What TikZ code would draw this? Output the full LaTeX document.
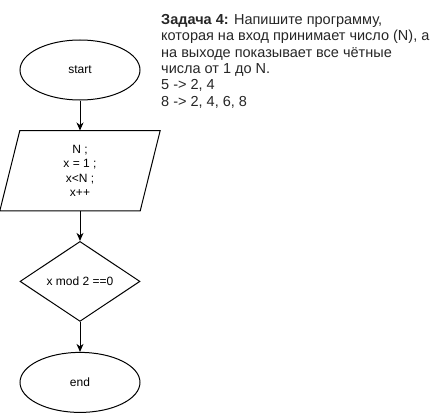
\documentclass[tikz,border=0pt]{standalone}
\usepackage{fontspec}
\setmainfont{Liberation Sans}
\usepackage{tikz}
\usetikzlibrary{positioning, shapes.geometric, arrows.meta}
\definecolor{inkgray}{HTML}{262626}

\tikzset{
  term/.style={ellipse, draw, line width=1pt, inner sep=0pt, minimum width=120pt, minimum height=60pt, font=\fontsize{12}{14.5}\selectfont},
  decide/.style={diamond, draw, line width=1pt, inner sep=0pt, aspect=1.5, minimum width=120pt, minimum height=80pt, font=\fontsize{12}{14.5}\selectfont},
  io/.style={rectangle, inner sep=0pt, minimum width=120pt, minimum height=80pt, align=center, font=\fontsize{12}{14.5}\selectfont},
  flow/.style={line width=1pt, -{Stealth[length=8pt, width=7pt, inset=2.5pt]}}
}

\begin{document}
\begin{tikzpicture}[x=1pt, y=-1pt, every node/.style={anchor=center}]
\useasboundingbox (0,0) rectangle (441,412);

\node[term] (start) at (80, 70) {start};

\node[io, below=30pt of start] (input) {N ;\\ x = 1 ;\\ x<N ;\\ x++};
\draw[line width=1pt, line join=miter] ([xshift=-20pt]input.south west) -- (input.south east) -- ([xshift=20pt]input.north east) -- (input.north west) -- cycle;

\node[decide, below=30pt of input] (cond) {x mod 2 ==0};

\node[term, below=30pt of cond] (stop) {end};

\node (task) [anchor=north west, inner sep=0pt, align=left, text=inkgray, font=\fontsize{14.5}{16.4}\selectfont] at (161, 13.9) {\textbf{Задача 4:} Напишите программу,\\ которая на вход принимает число (N), а\\ на выходе показывает все чётные\\ числа от 1 до N.\\ 5 -> 2, 4\\ 8 -> 2, 4, 6, 8};

  % flow arrows
  \foreach \a/\b in {start/input, input/cond, cond/stop} {
    \draw[flow] (\a) -- (\b);
  }

\end{tikzpicture}
\end{document}
